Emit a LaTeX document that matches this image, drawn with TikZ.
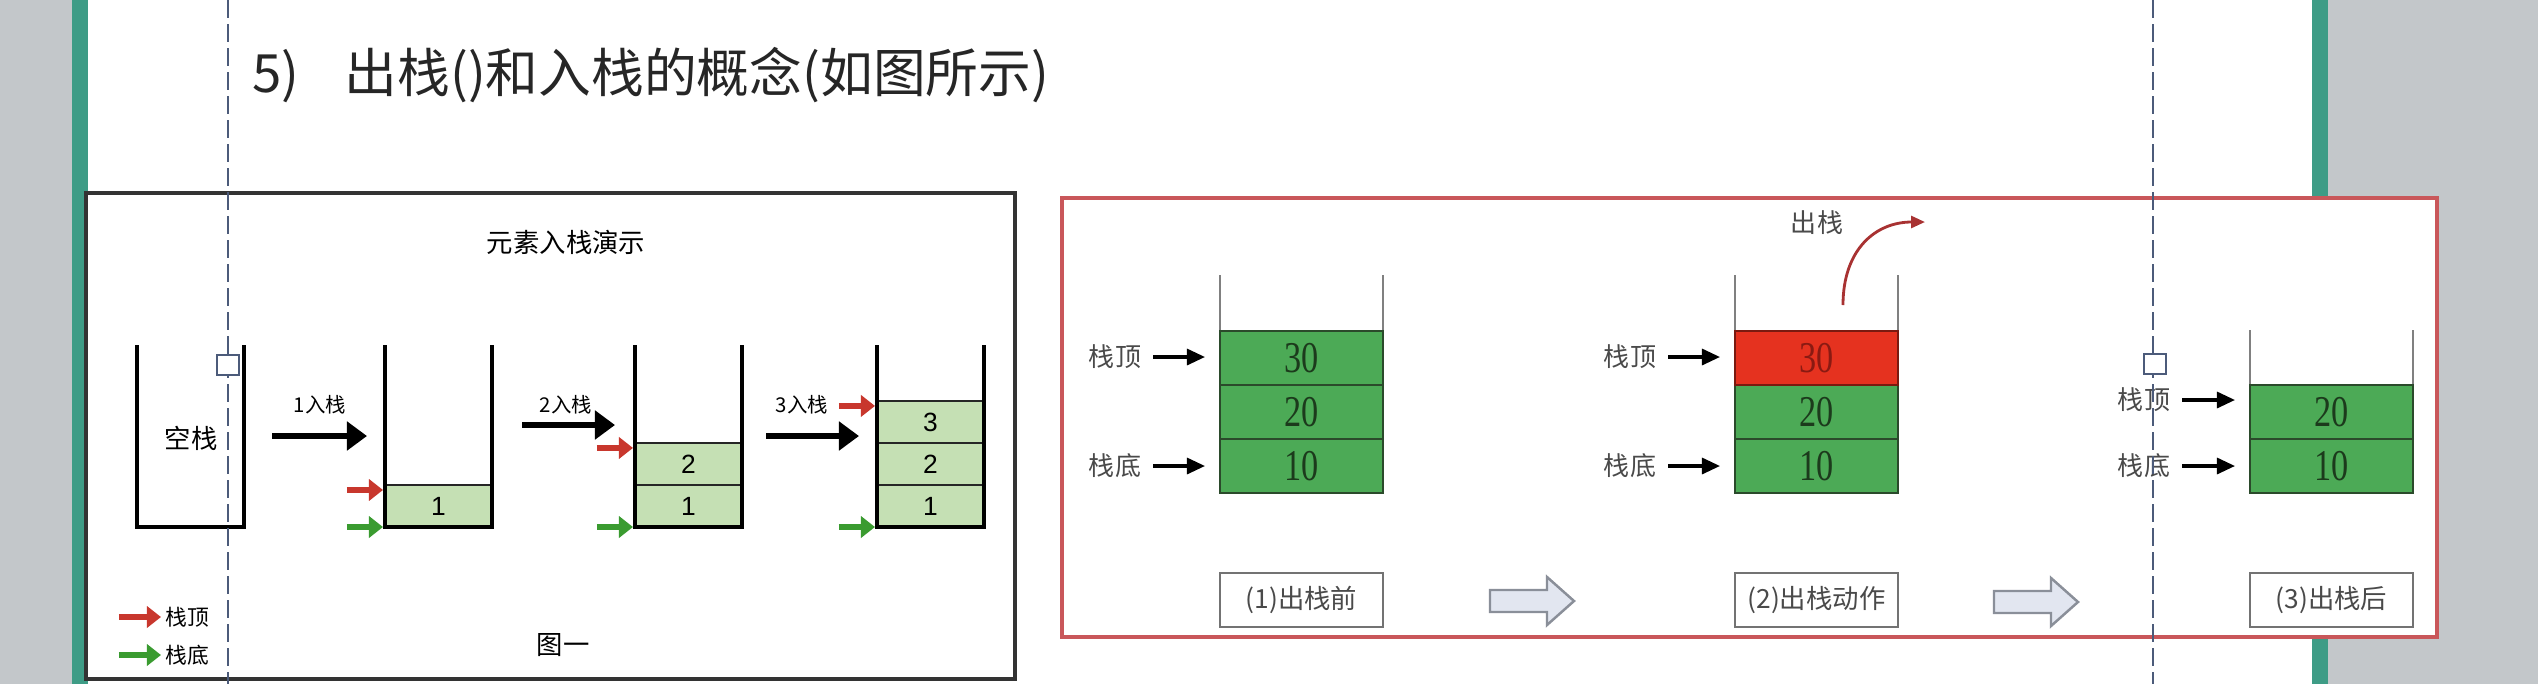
\documentclass[tikz,border=0pt]{standalone}
\usepackage{fontspec}
\setmainfont{Liberation Sans}
\newfontfamily\cjk{Noto Sans CJK SC}
\newfontfamily\numfont[FakeStretch=0.78]{Liberation Serif}
\usetikzlibrary{arrows.meta,positioning}
\definecolor{slidegray}{HTML}{C3C7CA}
\definecolor{slidegreen}{HTML}{3E9C86}
\definecolor{guide}{HTML}{4C5B7A}
\definecolor{cellgreen}{HTML}{C5E0B4}
\definecolor{ptrred}{HTML}{C8372D}
\definecolor{ptrgreen}{HTML}{3A9B30}
\definecolor{rgreen}{HTML}{4CAA56}
\definecolor{rgreenline}{HTML}{2B4A2B}
\definecolor{rgreentext}{HTML}{1C3A1C}
\definecolor{rred}{HTML}{E5321F}
\definecolor{rredline}{HTML}{7A1A10}
\definecolor{rredtext}{HTML}{8A1A12}
\definecolor{frame}{HTML}{C9575A}
\definecolor{popred}{HTML}{A83232}
\definecolor{hollowfill}{HTML}{E2E6F0}
\definecolor{hollowline}{HTML}{8A8F99}
\definecolor{labelgray}{HTML}{4A4A4A}

\begin{document}
\begin{tikzpicture}[x=0.01cm,y=-0.01cm,>=Latex,
  lframe/.style={draw=black!80,line width=0.9pt,fill=white},
  rframe/.style={draw=frame,line width=1.1pt,fill=white},
  lwall/.style={line width=1.1pt,line join=miter},
  rwall/.style={draw=black!50,line width=0.6pt},
  lcell/.style={draw=black!85,line width=0.8pt,fill=cellgreen,minimum width=1.07cm,minimum height=0.42cm,
    inner sep=0pt,outer sep=0pt,font=\fontsize{7.5}{9}\selectfont},
  rcell/.style={draw=rgreenline,line width=0.7pt,fill=rgreen,minimum width=1.63cm,minimum height=0.54cm,
    inner sep=0pt,outer sep=0pt,text=rgreentext,font=\numfont\fontsize{12.5}{14}\selectfont},
  popcell/.style={rcell,fill=rred,draw=rredline,text=rredtext},
  ltext/.style={font=\cjk\fontsize{7.5}{9}\selectfont},
  steplabel/.style={font=\cjk\fontsize{5.8}{7}\selectfont},
  legendtext/.style={font=\cjk\fontsize{6.2}{7.5}\selectfont,inner sep=1pt},
  ptrlabel/.style={font=\cjk\fontsize{7.4}{9}\selectfont,text=labelgray},
  capbox/.style={draw=black!55,line width=0.8pt,minimum width=1.63cm,minimum height=0.54cm,
    font=\cjk\fontsize{7.5}{9}\selectfont,text=labelgray},
  redptr/.style={draw=ptrred,line width=1.5pt,-{Triangle[length=0.14cm,width=0.21cm]}},
  greenptr/.style={draw=ptrgreen,line width=1.5pt,-{Triangle[length=0.14cm,width=0.21cm]}},
  pusharr/.style={line width=1.8pt,-{Triangle[length=0.2cm,width=0.28cm]}},
  ptr/.style={line width=0.9pt,-{Triangle[length=0.18cm,width=0.16cm]},shorten >=0.15cm},
  poparr/.style={draw=popred,line width=0.8pt,-{Triangle[length=0.14cm,width=0.12cm]}},
  hollow/.style={draw=hollowline,fill=hollowfill,line width=0.7pt,line join=miter},
  guideline/.style={draw=guide,line width=0.7pt,dash pattern=on 0.18cm off 0.06cm},
  handle/.style={draw=guide,fill=white,line width=0.6pt,minimum width=0.22cm,minimum height=0.2cm,inner sep=0pt}]
\useasboundingbox (0,0) rectangle (2538,684);
% slide behind the pictures
\fill[slidegray] (0,0) rectangle (2538,684);
\fill[white] (88,0) rectangle (2312,684);
\fill[slidegreen] (72,0) rectangle (88,684);
\fill[slidegreen] (2312,0) rectangle (2328,684);
\node[anchor=west,inner sep=0pt,font=\cjk\fontsize{15}{18}\selectfont,text=black!85] (title) at (252,75)
  {5)\hspace{0.45cm}出栈()和入栈的概念(如图所示)};

% left picture: pushing
\draw[lframe] (86,193) rectangle (1015,679);
\node[ltext] (demo) at (566,242) {元素入栈演示};
\node[lcell,anchor=south west] (s1a) at (385,527) {1};
\node[lcell,anchor=south west] (s2a) at (635,527) {1};
\node[lcell,above=0pt of s2a] (s2b) {2};
\node[lcell,anchor=south west] (s3a) at (877,527) {1};
\node[lcell,above=0pt of s3a] (s3b) {2};
\node[lcell,above=0pt of s3b] (s3c) {3};
\foreach \x in {137,385,635,877}
  \draw[lwall] (\x,345) |- (\x+107,527) -- (\x+107,345);
\node[ltext] (empty) at (191,438) {空栈};
\foreach \i/\xa/\xb/\y in {1/272/367/436,2/522/615/425,3/766/859/436} {
  \coordinate (p\i a) at (\xa,\y);
  \coordinate (p\i b) at (\xb,\y);
  \draw[pusharr] (p\i a) -- (p\i b);
}
\node[steplabel] (push1) at (320,405) {1入栈};
\node[steplabel] (push2) at (566,405) {2入栈};
\node[steplabel] (push3) at (802,405) {3入栈};
\foreach \c in {s1a,s2b,s3c}
  \draw[redptr] ([xshift=-0.38cm,yshift=-0.05cm]\c.north west) -- ([xshift=-0.02cm,yshift=-0.05cm]\c.north west);
\foreach \c in {s1a,s2a,s3a}
  \draw[greenptr] ([xshift=-0.38cm]\c.south west) -- ([xshift=-0.02cm]\c.south west);
\node[legendtext,anchor=west] (lgtop) at (161,617) {栈顶};
\node[legendtext,anchor=west] (lgbot) at (161,655) {栈底};
\draw[redptr] ([xshift=-0.42cm]lgtop.west) -- (lgtop.west);
\draw[greenptr] ([xshift=-0.42cm]lgbot.west) -- (lgbot.west);
\node[ltext] (fig1) at (563,645) {图一};

% right picture: popping
\draw[rframe] (1062,198) rectangle (2437,637);
\draw[rwall] (1220,275) |- (1383,493) -- (1383,275);
\draw[rwall] (1735,275) |- (1898,493) -- (1898,275);
\draw[rwall] (2250,330) |- (2413,493) -- (2413,330);
\node[rcell,anchor=south west] (a10) at (1220,493) {10};
\node[rcell,above=0pt of a10] (a20) {20};
\node[rcell,above=0pt of a20] (a30) {30};
\node[rcell,anchor=south west] (b10) at (1735,493) {10};
\node[rcell,above=0pt of b10] (b20) {20};
\node[popcell,above=0pt of b20] (b30) {30};
\node[rcell,anchor=south west] (c10) at (2250,493) {10};
\node[rcell,above=0pt of c10] (c20) {20};
\node[ptrlabel] (atop) at (1115,357) {栈顶};
\node[ptrlabel] (abot) at (1115,466) {栈底};
\node[ptrlabel] (btop) at (1630,357) {栈顶};
\node[ptrlabel] (bbot) at (1630,466) {栈底};
\node[ptrlabel] (ctop) at (2144,400) {栈顶};
\node[ptrlabel] (cbot) at (2144,466) {栈底};
\draw[ptr] (atop) -- (atop -| a30.west);
\draw[ptr] (abot) -- (abot -| a10.west);
\draw[ptr] (btop) -- (btop -| b30.west);
\draw[ptr] (bbot) -- (bbot -| b10.west);
\draw[ptr] (ctop) -- (ctop -| c20.west);
\draw[ptr] (cbot) -- (cbot -| c10.west);
\node[ptrlabel] (poptext) at (1817,223) {出栈};
\coordinate (popfrom) at (1843,305);
\coordinate (popto) at (1925,222);
\draw[poparr] (popfrom) .. controls (1843,250) and (1875,222) .. (popto);
\node[capbox] (cap1) at (1301.5,600) {(1)出栈前};
\node[capbox] (cap2) at (1816.5,600) {(2)出栈动作};
\node[capbox] (cap3) at (2331.5,600) {(3)出栈后};
\coordinate (hol1) at (1490,601);
\coordinate (hol2) at (1994,602);
\foreach \h in {hol1,hol2}
  \draw[hollow] (\h) ++(0,-11) -- ++(57,0) -- ++(0,-13) -- ++(27,24) -- ++(-27,24) -- ++(0,-13) -- ++(-57,0) -- cycle;

% editor guides
\draw[guideline] (228,0) -- (228,684);
\draw[guideline] (2153,0) -- (2153,684);
\node[handle] (grip1) at (228,365) {};
\node[handle] (grip2) at (2155,364) {};
\end{tikzpicture}
\end{document}
